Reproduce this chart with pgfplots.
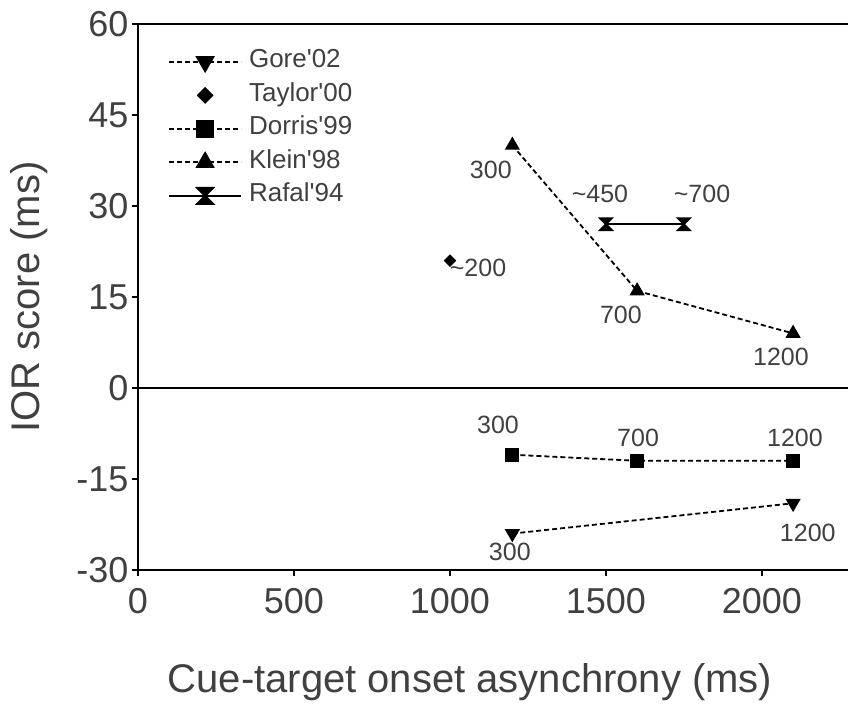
\documentclass[border=0pt]{standalone}
\usepackage{fontspec}
\setmainfont{Liberation Sans}
\usepackage{pgfplots}
\pgfplotsset{compat=1.18}
\definecolor{txt}{RGB}{64,64,64}
\pgfdeclareplotmark{hourglass}{%
 \pgfpathmoveto{\pgfqpoint{-\pgfplotmarksize}{\pgfplotmarksize}}%
 \pgfpathlineto{\pgfqpoint{\pgfplotmarksize}{\pgfplotmarksize}}%
 \pgfpathlineto{\pgfqpoint{-\pgfplotmarksize}{-\pgfplotmarksize}}%
 \pgfpathlineto{\pgfqpoint{\pgfplotmarksize}{-\pgfplotmarksize}}%
 \pgfpathclose
 \pgfusepathqfillstroke}
\newcommand{\annfont}{\fontsize{25bp}{30bp}\selectfont}
\newcommand{\legfont}{\fontsize{26bp}{30bp}\selectfont}
\pgfplotsset{legend image code/.code={\draw[mark repeat=2,mark phase=2,#1,every mark/.append style={scale=1.35}] plot coordinates {(0bp,0bp) (36bp,0bp) (72bp,0bp)};},
  markonlylegend/.style={legend image code/.code={\path (0bp,0bp) (72bp,0bp); \draw[##1,only marks,every mark/.append style={scale=1.35}] plot coordinates {(36bp,0bp)};}}}
\begin{document}
\begin{tikzpicture}
\begin{axis}[
 at={(0,0)}, anchor=south west,
 scale only axis, width=710bp, height=546bp,
 xmin=0, xmax=2276, ymin=-30, ymax=60,
 axis x line*=bottom, axis y line*=left,
 xtick={0,500,...,2000}, ytick={-30,-15,...,60},
 tick align=outside, major tick length=6bp,
 every tick/.style={black, line width=1.5bp},
 axis line style={line width=2bp, black},
 ticklabel style={font=\fontsize{36bp}{40bp}\selectfont, text=txt},
 xticklabel style={yshift=-9bp},
 /pgf/number format/assume math mode=true,
 /pgf/number format/1000 sep={},
 xlabel={Cue-target onset asynchrony (ms)},
 ylabel={IOR score (ms)},
 label style={font=\fontsize{40bp}{44bp}\selectfont, text=txt},
 xlabel style={at={(axis description cs:0.4676,-0.205)}, anchor=center},
 ylabel style={at={(axis description cs:-0.1535,0.5)}, anchor=center},
 legend style={at={(rel axis cs:0.0423,0.953)}, anchor=north west, draw=none, fill=none, inner sep=0pt, row sep=9.5bp,
   font=\legfont, text=txt, nodes={inner sep=0pt, text height=18bp, text depth=6bp},
   /tikz/every odd column/.append style={column sep=7bp}},
 legend cell align=left,
 clip=false,
]
\addplot[black, line width=1.8bp, dash pattern=on 5bp off 3bp, mark=triangle*, mark size=7bp, mark options={solid, rotate=180, fill=black}] coordinates {(1200,-24) (2100,-19)};
\addlegendentry{Gore\textquotesingle 02}
\addplot[black, only marks, mark=square*, mark size=4.2bp, mark options={fill=black, rotate=45}, markonlylegend] coordinates {(1000,21)};
\addlegendentry{Taylor\textquotesingle 00}
\addplot[black, line width=1.8bp, dash pattern=on 5bp off 3bp, mark=square*, mark size=6bp, mark options={solid, fill=black}] coordinates {(1200,-11) (1600,-12) (2100,-12)};
\addlegendentry{Dorris\textquotesingle 99}
\addplot[black, line width=1.8bp, dash pattern=on 5bp off 3bp, mark=triangle*, mark size=7bp, mark options={solid, fill=black}] coordinates {(1200,40) (1600,16) (2100,9)};
\addlegendentry{Klein\textquotesingle 98}
\addplot[black, line width=1.8bp, solid, mark=hourglass, mark size=6bp, mark options={solid, fill=black}] coordinates {(1500,27) (1750,27)};
\addlegendentry{Rafal\textquotesingle 94}
\draw[line width=2bp] (rel axis cs:0,1) -- (rel axis cs:1,1);
\draw[line width=1.8bp] (axis cs:0,0) -- (axis cs:2276,0);
\node[font=\annfont, text=txt] at (axis cs:1131,35.9) {300};
\node[font=\annfont, text=txt] at (axis cs:1548,12.0) {700};
\node[font=\annfont, text=txt] at (axis cs:2061,5.1) {1200};
\node[font=\annfont, text=txt] at (axis cs:1481,32.0) {\textasciitilde 450};
\node[font=\annfont, text=txt] at (axis cs:1808,32.0) {\textasciitilde 700};
\node[font=\annfont, text=txt] at (axis cs:1090,19.8) {\textasciitilde 200};
\node[font=\annfont, text=txt] at (axis cs:1154,-6.1) {300};
\node[font=\annfont, text=txt] at (axis cs:1603,-8.2) {700};
\node[font=\annfont, text=txt] at (axis cs:2106,-8.2) {1200};
\node[font=\annfont, text=txt] at (axis cs:1192,-27.0) {300};
\node[font=\annfont, text=txt] at (axis cs:2147,-23.9) {1200};
\end{axis}
\pgfresetboundingbox
\path (-138bp,-136bp) rectangle (710bp,570bp);
\end{tikzpicture}
\end{document}
